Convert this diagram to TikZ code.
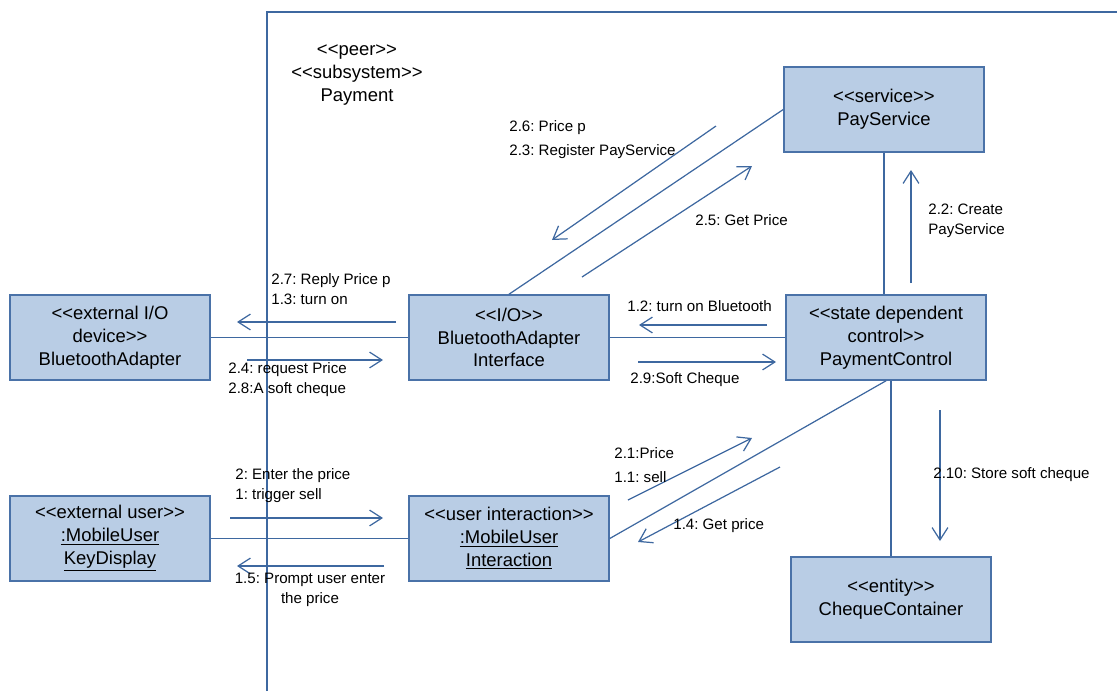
\documentclass[tikz,border=0pt]{standalone}
\usepackage{fontspec}
\setmainfont{Liberation Sans}
\usetikzlibrary{arrows.meta}

\definecolor{boxfill}{RGB}{185,205,229}
\definecolor{boxline}{RGB}{74,114,168}
\definecolor{wire}{RGB}{62,104,160}

% stereotype brackets, kept apart so they do not turn into guillemets
\newcommand{\stereo}[1]{<{}<#1>{}>}
\frenchspacing

\tikzset{
  klass/.style={draw=boxline, fill=boxfill, line width=0.9pt, minimum width=4cm, minimum height=1.7cm,
    align=center, inner sep=2pt, font=\fontsize{10.5}{13}\selectfont},
  assoc/.style={draw=wire, line width=0.7pt},
  msg/.style={draw=wire, line width=0.7pt, -{Straight Barb[length=7pt,width=9pt]}},
  lbl/.style={font=\fontsize{8.6}{11.4}\selectfont, inner sep=0pt, align=left, anchor=west},
}

\begin{document}
\begin{tikzpicture}[x=0.02cm, y=-0.02cm]
\useasboundingbox (0,0) rectangle (1117,691);

% subsystem frame
\draw[wire, line width=1.2pt] (267,691) -- (267,12) -- (1117,12);
\node[align=center, inner sep=0pt, font=\fontsize{10.5}{13}\selectfont] (title) at (357,75) {\stereo{peer}\\\stereo{subsystem}\\Payment};

% objects
\node[klass] (btadapter) at (110,337.5) {\stereo{external I/O\\device}\\BluetoothAdapter};
\node[klass] (btif) at (509,337.5) {\stereo{I/O}\\BluetoothAdapter\\Interface};
\node[klass] (payctrl) at (886,337.5) {\stereo{state dependent\\control}\\PaymentControl};
\node[klass] (paysvc) at (884,109.5) {\stereo{service}\\PayService};
\node[klass] (keydisp) at (110,538.5) {\stereo{external user}\\\underline{:MobileUser}\\\underline{KeyDisplay}};
\node[klass] (userif) at (509,538.5) {\stereo{user interaction}\\\underline{:MobileUser}\\\underline{Interaction}};
\node[klass] (cheques) at (891,599.5) {\stereo{entity}\\ChequeContainer};

% links
\draw[assoc] (btadapter) -- (btif);
\draw[assoc] (btif) -- (payctrl);
\draw[assoc] (keydisp) -- (userif);
\draw[assoc] (btif.north) -- (paysvc.west);
\draw[assoc] (paysvc.south) -- (paysvc.south |- payctrl.north);
\draw[assoc] (cheques.north |- payctrl.south) -- (cheques.north);
\draw[assoc] (payctrl.south) -- (userif.east);

% message end points
\coordinate (m13a) at (396,322); \coordinate (m13b) at (237,322);
\coordinate (m24a) at (247,360); \coordinate (m24b) at (383,360);
\coordinate (m12a) at (767,325); \coordinate (m12b) at (639,325);
\coordinate (m29a) at (638,362); \coordinate (m29b) at (776,362);
\coordinate (m23a) at (716,126); \coordinate (m23b) at (552,240);
\coordinate (m25a) at (582,277); \coordinate (m25b) at (752,166);
\coordinate (m22a) at (911,283); \coordinate (m22b) at (911,170);
\coordinate (m210a) at (940,410); \coordinate (m210b) at (940,541);
\coordinate (m11a) at (628,500); \coordinate (m11b) at (752,438);
\coordinate (m14a) at (780,467); \coordinate (m14b) at (638,542);
\coordinate (m1a) at (230,518); \coordinate (m1b) at (383,518);
\coordinate (m15a) at (384,566); \coordinate (m15b) at (237,566);

% messages
\draw[msg] (m13a) -- (m13b);
\draw[msg] (m24a) -- (m24b);
\draw[msg] (m12a) -- (m12b);
\draw[msg] (m29a) -- (m29b);
\draw[msg] (m23a) -- (m23b);
\draw[msg] (m25a) -- (m25b);
\draw[msg] (m22a) -- (m22b);
\draw[msg] (m210a) -- (m210b);
\draw[msg] (m11a) -- (m11b);
\draw[msg] (m14a) -- (m14b);
\draw[msg] (m1a) -- (m1b);
\draw[msg] (m15a) -- (m15b);

% message labels
\node[lbl] (l13) at (271,289) {2.7: Reply Price p\\1.3: turn on};
\node[lbl] (l24) at (228,380) {2.4: request Price\\2.8:A soft cheque};
\node[lbl] (l12) at (627,306) {1.2: turn on Bluetooth};
\node[lbl] (l29) at (630,380) {2.9:Soft Cheque};
\node[lbl] (l23) at (509,140) {2.6: Price p\\[2.2pt]2.3: Register PayService};
\node[lbl] (l25) at (695,220) {2.5: Get Price};
\node[lbl] (l22) at (928,220.5) {2.2: Create\\PayService};
\node[lbl] (l210) at (933,475) {2.10: Store soft cheque};
\node[lbl] (l11) at (614,465) {2.1:Price\\[2.2pt]1.1: sell};
\node[lbl] (l14) at (673,526) {1.4: Get price};
\node[lbl] (l1) at (235,486) {2: Enter the price\\1: trigger sell};
\node[lbl, anchor=center, align=center] (l15) at (310,589.5) {1.5: Prompt user enter\\the price};
\end{tikzpicture}
\end{document}
